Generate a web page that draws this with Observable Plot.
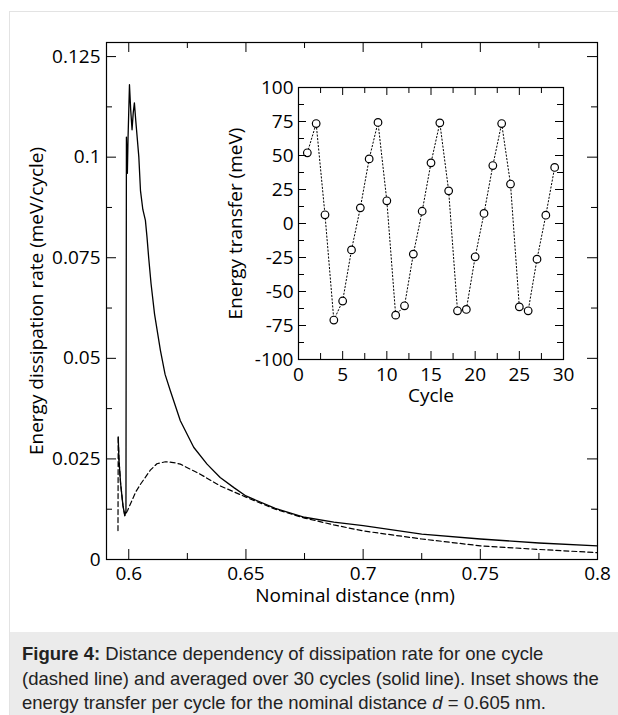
<!DOCTYPE html>
<html><head><meta charset="utf-8">
<script src="https://cdn.jsdelivr.net/npm/d3@7"></script>
<script src="https://cdn.jsdelivr.net/npm/@observablehq/plot@0.6"></script>
<style>
body{margin:0;background:#fff;}
#page{position:relative;width:618px;height:715px;overflow:hidden;background:#fff;}
#card{position:absolute;left:9px;top:11px;width:620px;height:720px;border-left:1px solid #e3e3e3;border-top:1px solid #e3e3e3;}
#main{position:absolute;left:0;top:0;}
#inset{position:absolute;left:220px;top:75px;}
#caption{position:absolute;left:10px;top:632px;width:608px;height:83px;background:#ebebeb;box-sizing:border-box;padding:10px 0 0 12px;font-family:"Liberation Sans",Arial,sans-serif;font-size:18.5px;line-height:24.5px;color:#222;white-space:nowrap;}
</style>
</head><body>
<div id="page">
<div id="card"></div>
<div id="main"></div>
<div id="inset"></div>
<div id="caption"><b>Figure 4:</b> Distance dependency of dissipation rate for one cycle<br>(dashed line) and averaged over 30 cycles (solid line). Inset shows the<br>energy transfer per cycle for the nominal distance <i>d</i> = 0.605 nm.</div>
</div>
<script>
// ---- main chart data ----
const avgDist = [0.5955,0.5958,0.5965,0.5975,0.5983,0.5988,0.5989,0.5990,0.5994,0.5997,0.6003,0.6008,0.6014,0.6019,0.6024,0.6030,0.6043,0.6050,0.6060,0.6071,0.6078,0.6085,0.6095,0.6110,0.6135,0.6155,0.6177,0.6220,0.6277,0.6334,0.6390,0.6450,0.6500,0.6625,0.6750,0.6875,0.7000,0.7250,0.7500,0.7750,0.8000];
const avgRate = [0.0305,0.0250,0.0190,0.0135,0.0109,0.0120,0.0600,0.1050,0.0960,0.1050,0.1180,0.1120,0.1068,0.1110,0.1135,0.1090,0.1000,0.0917,0.0870,0.0843,0.0800,0.0750,0.0686,0.0610,0.0520,0.0460,0.0420,0.0345,0.0279,0.0237,0.0204,0.0178,0.0158,0.0127,0.0105,0.0093,0.0084,0.0063,0.0051,0.0041,0.0034];
const oneDist = [0.5954,0.5955,0.5958,0.5965,0.5975,0.5983,0.5995,0.6007,0.6030,0.6050,0.6092,0.6120,0.6156,0.6190,0.6220,0.6305,0.6390,0.6500,0.6625,0.6750,0.6875,0.7000,0.7250,0.7500,0.7750,0.8000];
const oneRate = [0.0072,0.0305,0.0250,0.0190,0.0135,0.0109,0.0122,0.0138,0.0168,0.0187,0.0222,0.0238,0.0243,0.0241,0.0237,0.0212,0.0183,0.0155,0.0125,0.0103,0.0086,0.0071,0.0051,0.0034,0.0025,0.0017];
const xMajor = [0.6,0.65,0.7,0.75,0.8];
const xMinor = [0.625,0.675,0.725,0.775];
const yMajor = [0,0.025,0.05,0.075,0.1,0.125];
const yMinor = [0.0125,0.0375,0.0625,0.0875,0.1125];
const xLabels = ["0.6","0.65","0.7","0.75","0.8"];
const yLabels = ["0","0.025","0.05","0.075","0.1","0.125"];

// ---- inset data ----
const cycles = d3.range(1,30);
const transfer = [52,73.5,6.4,-71,-57,-19.4,11.5,47.5,74.3,16.7,-67.4,-60.5,-22.5,9,44.6,74,24,-64.2,-63.2,-24.5,7.4,42.6,73.5,29,-61.3,-64.2,-26.2,6.1,41.2];
const ixMajor = [0,5,10,15,20,25,30];
const ixMinor = [2.5,7.5,12.5,17.5,22.5,27.5];
const iyMajor = [-100,-75,-50,-25,0,25,50,75,100];
const iyMinor = [-87.5,-62.5,-37.5,-12.5,12.5,37.5,62.5,87.5];

const avg = avgDist.map((d,i)=>({x:d,y:avgRate[i]}));
const one = oneDist.map((d,i)=>({x:d,y:oneRate[i]}));
const ins = cycles.map((c,i)=>({x:c,y:transfer[i]}));

const font = {fontFamily:"'Open Sans', sans-serif", fontSize:"19px", color:"black", background:"transparent", overflow:"visible"};

// main
const W=618,H=630,mL=106,mR=21,mT=42,mB=71;
const iw=W-mL-mR, ih=H-mT-mB;
const MAJ=10, MIN=6;
function ticks(xs, ys, iwid, ihei, maj, min) {
  return [
    Plot.tickX(xs.maj, {x:d=>d, insetTop:ihei-maj, stroke:"black"}),
    Plot.tickX(xs.maj, {x:d=>d, insetBottom:ihei-maj, stroke:"black"}),
    Plot.tickX(xs.min, {x:d=>d, insetTop:ihei-min, stroke:"black"}),
    Plot.tickX(xs.min, {x:d=>d, insetBottom:ihei-min, stroke:"black"}),
    Plot.tickY(ys.maj, {y:d=>d, insetRight:iwid-maj, stroke:"black"}),
    Plot.tickY(ys.maj, {y:d=>d, insetLeft:iwid-maj, stroke:"black"}),
    Plot.tickY(ys.min, {y:d=>d, insetRight:iwid-min, stroke:"black"}),
    Plot.tickY(ys.min, {y:d=>d, insetLeft:iwid-min, stroke:"black"})
  ];
}
const main = Plot.plot({
  width:W, height:H, marginLeft:mL, marginRight:mR, marginTop:mT, marginBottom:mB,
  style:font,
  x:{domain:[0.5905,0.8], axis:null},
  y:{domain:[0,0.1285], axis:null},
  marks:[
    Plot.line(one, {x:"x", y:"y", stroke:"black", strokeWidth:1.2, strokeDasharray:"5,3"}),
    Plot.line(avg, {x:"x", y:"y", stroke:"black", strokeWidth:1.3}),
    ...ticks({maj:xMajor,min:xMinor},{maj:yMajor,min:yMinor}, iw, ih, MAJ, MIN),
    Plot.frame({stroke:"black", strokeWidth:1.2}),
    Plot.axisX(xMajor, {anchor:"bottom", tickSize:0, tickPadding:7, tickFormat:(d,i)=>xLabels[i], label:null}),
    Plot.axisY(yMajor, {anchor:"left", tickSize:0, tickPadding:6, tickFormat:(d,i)=>yLabels[i], label:null}),
    Plot.text(["Nominal distance (nm)"], {frameAnchor:"bottom", textAnchor:"middle", dy:36, dx:3, lineAnchor:"middle"}),
    Plot.text(["Energy dissipation rate (meV/cycle)"], {frameAnchor:"left", textAnchor:"middle", rotate:-90, dx:-70, dy:0, lineAnchor:"middle"})
  ]
});
document.getElementById("main").appendChild(main);

// inset
const IW=353,IH=329,iL=78,iR=10,iT=12,iB=45;
const inset = Plot.plot({
  width:IW, height:IH, marginLeft:iL, marginRight:iR, marginTop:iT, marginBottom:iB,
  style:font,
  x:{domain:[0,30], axis:null},
  y:{domain:[-100,100], axis:null},
  marks:[
    Plot.line(ins, {x:"x", y:"y", stroke:"black", strokeWidth:1, strokeDasharray:"1.3,2.2"}),
    Plot.dot(ins, {x:"x", y:"y", r:3.8, stroke:"black", strokeWidth:1.2, fill:"white"}),
    ...ticks({maj:ixMajor,min:ixMinor},{maj:iyMajor,min:iyMinor}, IW-iL-iR, IH-iT-iB, 8, 6),
    Plot.frame({stroke:"black", strokeWidth:1.2}),
    Plot.axisX(ixMajor, {anchor:"bottom", tickSize:0, tickPadding:8, label:null, tickFormat:d=>String(d)}),
    Plot.axisY(iyMajor, {anchor:"left", tickSize:0, tickPadding:5, label:null, tickFormat:d=>String(d)}),
    Plot.text(["Cycle"], {frameAnchor:"bottom", textAnchor:"middle", dy:36, lineAnchor:"middle"}),
    Plot.text(["Energy transfer (meV)"], {frameAnchor:"left", textAnchor:"middle", rotate:-90, dx:-63, lineAnchor:"middle"})
  ]
});
document.getElementById("inset").appendChild(inset);
</script>
</body></html>
